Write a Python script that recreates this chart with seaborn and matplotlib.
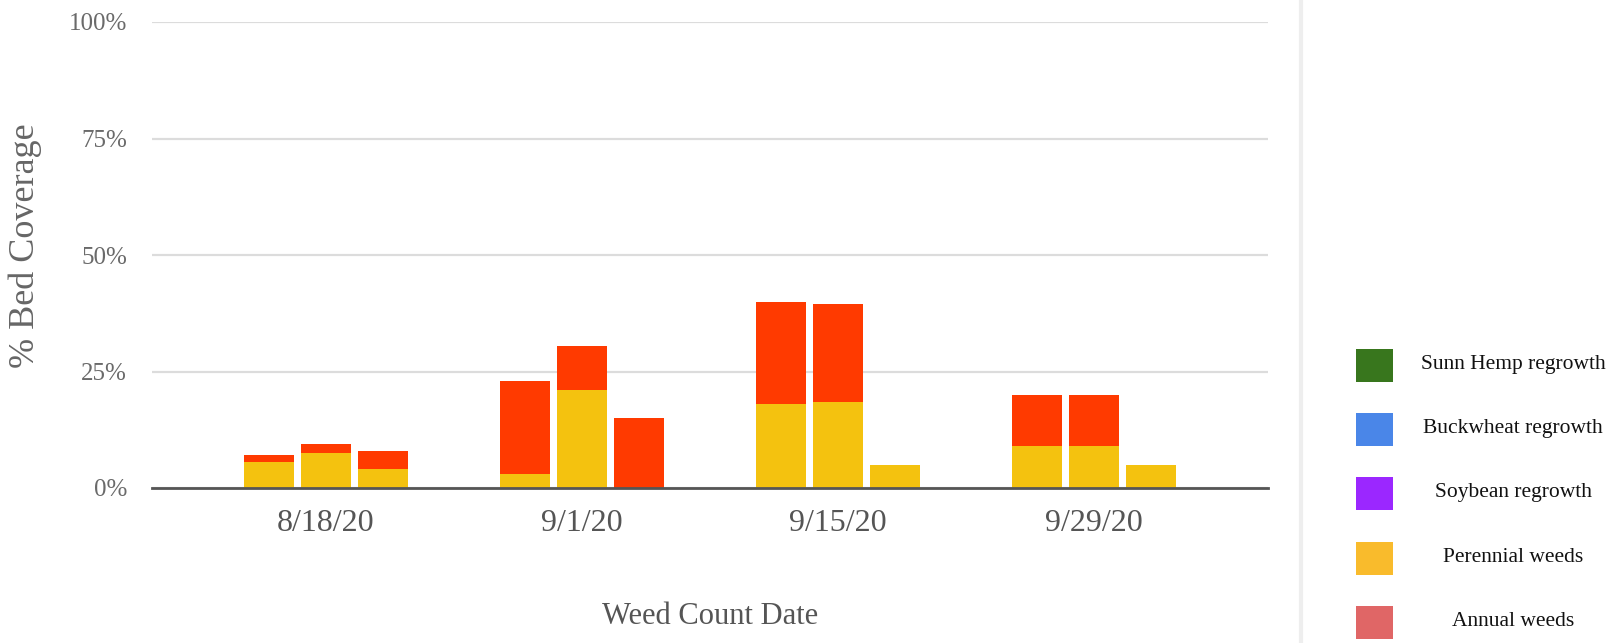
import matplotlib
matplotlib.use("Agg")
import matplotlib.pyplot as plt
import seaborn as sns
import pandas as pd
from matplotlib.patches import Rectangle

# Weed coverage per count date, three beds per date (% of bed)
dates = ["8/18/20", "9/1/20", "9/15/20", "9/29/20"]
beds = ["Bed 1", "Bed 2", "Bed 3"]
perennial = [
    [5.5, 7.5, 4.0],
    [3.0, 21.0, 0.0],
    [18.0, 18.5, 5.0],
    [9.0, 9.0, 5.0],
]
annual = [
    [1.5, 2.0, 4.0],
    [20.0, 9.5, 15.0],
    [22.0, 21.0, 0.0],
    [11.0, 11.0, 0.0],
]
y_ticks = [0, 25, 50, 75, 100]
y_tick_labels = ["0%", "25%", "50%", "75%", "100%"]

legend_labels = ["Sunn Hemp regrowth", "Buckwheat regrowth", "Soybean regrowth",
                 "Perennial weeds", "Annual weeds"]
legend_colors = ["#38761d", "#4a86e8", "#9b27ff", "#f9bb2c", "#e06666"]

bar_perennial = "#f4c20f"
bar_annual = "#ff3a00"

rows = []
for i, d in enumerate(dates):
    for j, b in enumerate(beds):
        rows.append({"date": d, "bed": b,
                     "perennial": perennial[i][j],
                     "total": perennial[i][j] + annual[i][j]})
df = pd.DataFrame(rows)

sns.set_style("white")
serif = ["Liberation Serif", "DejaVu Serif"]
plt.rcParams["font.family"] = serif

fig = plt.figure(figsize=(16.17, 6.43), dpi=100)
ax = fig.add_axes([152 / 1617, (643 - 488) / 643, (1268 - 152) / 1617, 466 / 643])

# annual weeds sit on top of perennial weeds: draw totals first, perennial over them
bar_kw = dict(hue="bed", order=dates, hue_order=beds, width=0.667, gap=0.12,
              dodge=True, legend=False, errorbar=None, linewidth=0, saturation=1,
              ax=ax)
sns.barplot(data=df, x="date", y="total", palette=[bar_annual] * 3, zorder=3, **bar_kw)
sns.barplot(data=df, x="date", y="perennial", palette=[bar_perennial] * 3, zorder=4,
            **bar_kw)

ax.set_xlim(-0.68, 3.68)
ax.set_ylim(0, 100)
ax.set_yticks(y_ticks)
ax.set_yticklabels(y_tick_labels)
ax.grid(axis="y", color="#dcdcdc", linewidth=1.6, zorder=0)
ax.set_axisbelow(True)
for s in ["top", "right", "left"]:
    ax.spines[s].set_visible(False)
ax.spines["bottom"].set_color("#555555")
ax.spines["bottom"].set_linewidth(2)
ax.spines["bottom"].set_zorder(5)
ax.tick_params(axis="y", length=0, pad=18, labelsize=18, labelcolor="#6a6a6a")
ax.tick_params(axis="x", length=0, pad=15, labelsize=23, labelcolor="#555555")
for t in ax.get_yticklabels():
    t.set_clip_on(False)

ax.set_xlabel("Weed Count Date", fontsize=22, color="#555555", labelpad=46)
ax.set_ylabel("% Bed Coverage", fontsize=26, color="#666666")
ax.yaxis.set_label_coords(-110 / 1116, 0.52)

# divider between plot area and legend panel
fig.add_artist(plt.Line2D([1301 / 1617, 1301 / 1617], [0, 1], color="#eeeeee",
                          linewidth=3, transform=fig.transFigure))

# legend panel
lax = fig.add_axes([0, 0, 1, 1], facecolor="none")
lax.set_xlim(0, 1617)
lax.set_ylim(643, 0)
lax.axis("off")
row_y = [365, 429, 493, 558, 622]
for y, lab, col in zip(row_y, legend_labels, legend_colors):
    lax.add_patch(Rectangle((1356, y - 16.5), 37, 33, facecolor=col, edgecolor="none"))
    lax.text(1513, y, lab, ha="center", va="center", fontsize=15.5, color="#111111",
             family=serif)

fig.savefig("out.png", dpi=100)
